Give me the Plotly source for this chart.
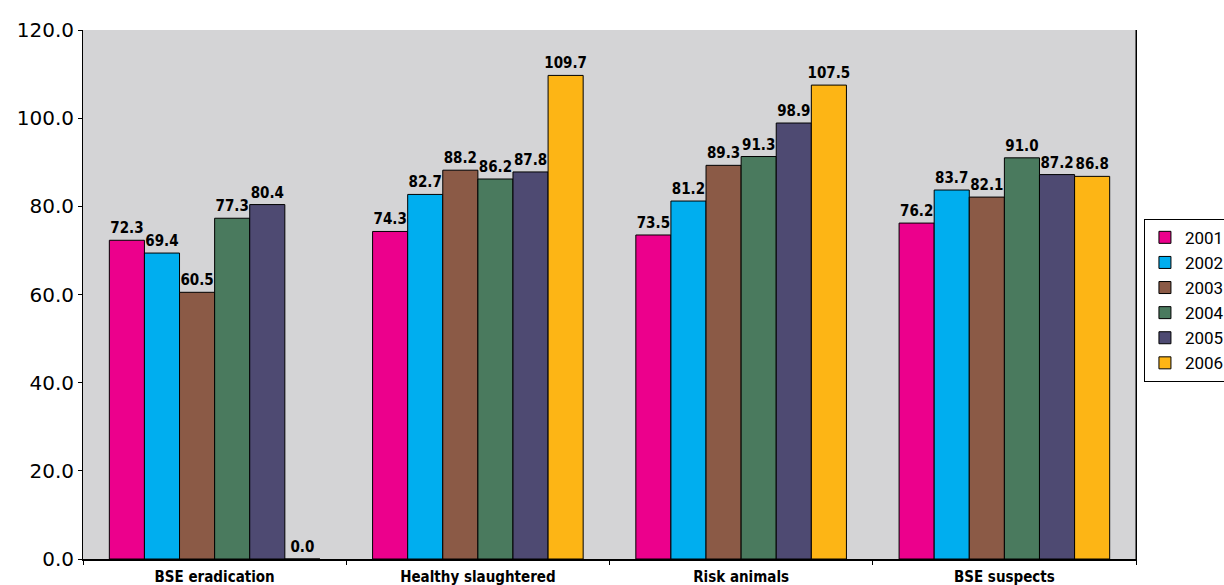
import plotly.graph_objects as go

categories = ["BSE eradication", "Healthy slaughtered", "Risk animals", "BSE suspects"]
years = ["2001", "2002", "2003", "2004", "2005", "2006"]
v2001 = [72.3, 74.3, 73.5, 76.2]
v2002 = [69.4, 82.7, 81.2, 83.7]
v2003 = [60.5, 88.2, 89.3, 82.1]
v2004 = [77.3, 86.2, 91.3, 91.0]
v2005 = [80.4, 87.8, 98.9, 87.2]
v2006 = [0.0, 109.7, 107.5, 86.8]
series = [v2001, v2002, v2003, v2004, v2005, v2006]
colors = ["#EC008C", "#00AEEF", "#8B5A46", "#4A7A5E", "#4E4A72", "#FDB515"]
tick_vals = [0, 20, 40, 60, 80, 100, 120]

fig = go.Figure()
for name, vals, col in zip(years, series, colors):
    fig.add_trace(go.Bar(
        x=categories, y=vals, name=name,
        marker=dict(color=col, line=dict(color="black", width=1)),
        text=[f"{v:.1f}" for v in vals], textposition="outside",
        textfont=dict(family="DejaVu Sans Condensed", size=15, color="black"),
        texttemplate="<b>%{text}</b>", cliponaxis=False, constraintext="none",
    ))

fig.update_layout(
    width=1224, height=585,
    margin=dict(l=83, r=88, t=30, b=26, autoexpand=False),
    paper_bgcolor="white", plot_bgcolor="#D4D4D6",
    barmode="group", bargap=0.2, bargroupgap=0,
    font=dict(family="DejaVu Sans", color="black"),
    showlegend=True,
    legend=dict(xref="container", yref="container", x=0.9346, y=0.626,
                xanchor="left", yanchor="top",
                bordercolor="black", borderwidth=1, bgcolor="white",
                font=dict(family="Roboto", size=17),
                tracegroupgap=0, itemwidth=30),
    template="none",
)
fig.update_xaxes(
    showline=True, linecolor="black", linewidth=2, mirror=False,
    ticks="outside", ticklen=4, tickcolor="black",
    tickfont=dict(family="DejaVu Sans Condensed", size=15),
    tickprefix="<b>", ticksuffix="</b>", ticklabelstandoff=3,
    showgrid=False, tickson="boundaries",
)
fig.update_yaxes(
    range=[0, 120], tickvals=tick_vals, ticktext=[f"{v:.1f}" for v in tick_vals],
    showline=True, linecolor="black", linewidth=1, mirror=True,
    ticks="outside", ticklen=4, tickcolor="black",
    tickfont=dict(family="DejaVu Sans", size=20),
    showgrid=False, zeroline=False,
)
fig.add_shape(type="line", xref="paper", yref="paper", x0=1, x1=1, y0=0, y1=1,
              line=dict(color="black", width=1))
fig.write_html("out.html", config={"displayModeBar": False},
               post_script="document.body.style.margin='0';document.body.style.overflow='hidden';")
